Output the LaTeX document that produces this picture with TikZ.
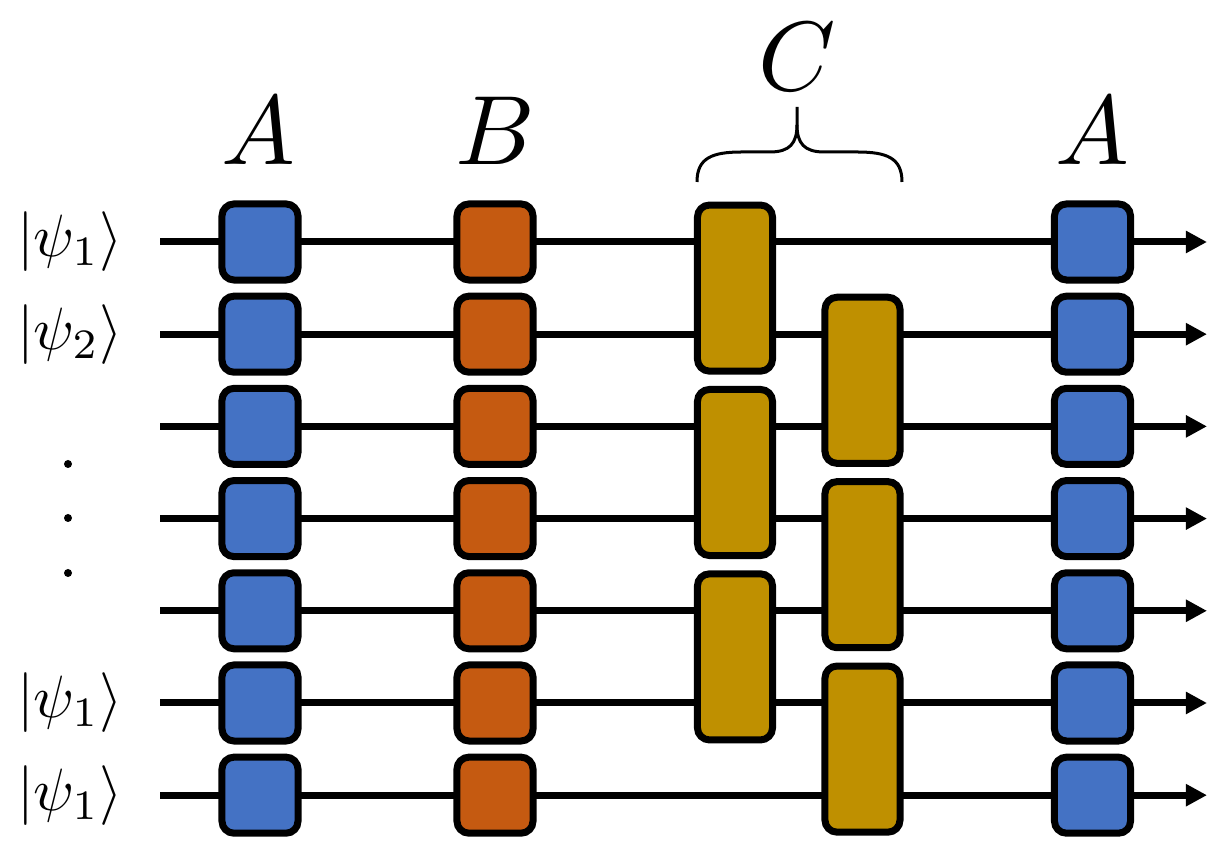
\documentclass[tikz,border=0pt]{standalone}
\usetikzlibrary{arrows.meta}
\definecolor{gblue}{HTML}{4472C4}
\definecolor{gorange}{HTML}{C55A11}
\definecolor{ggold}{HTML}{BF9000}
\begin{document}
\begin{tikzpicture}[x=0.01cm,y=-0.01cm,
  wire/.style={line width=0.07cm,-{Triangle[length=0.21cm,width=0.21cm]}},
  gate/.style={draw=black,line width=0.07cm,rounded corners=0.12cm,inner sep=0pt,
    minimum width=0.76cm,minimum height=0.76cm},
  tallgate/.style={gate,fill=ggold,minimum width=0.75cm,minimum height=1.66cm},
  biglabel/.style={scale=2.8,inner sep=0pt},
  ketlabel/.style={scale=1.7,inner sep=0pt}]
\useasboundingbox (0,0) rectangle (1229,862);
% wires
\foreach \i in {1,...,7}{
  \pgfmathsetmacro{\yy}{242+92.2*(\i-1)}
  \coordinate (s\i) at (160,\yy);
  \coordinate (e\i) at (1207,\yy);
  \draw[wire] (s\i) -- (e\i);
}
% A and B columns
\foreach \i in {1,...,7}{
  \node[gate,fill=gblue] (a\i) at (260,242+92.2*\i-92.2) {};
  \node[gate,fill=gorange] (b\i) at (495,242+92.2*\i-92.2) {};
  \node[gate,fill=gblue] (f\i) at (1092.5,242+92.2*\i-92.2) {};
}
% C gates
\node[tallgate] (c1) at (735,288.1) {};
\node[tallgate] (c2) at (735,472.5) {};
\node[tallgate] (c3) at (735,656.9) {};
\node[tallgate] (c4) at (862.5,380.3) {};
\node[tallgate] (c5) at (862.5,564.7) {};
\node[tallgate] (c6) at (862.5,749.1) {};
% brace
\draw[line width=0.03cm]
  (697,182) .. controls (697,158) and (712,152) .. (742,152) -- (770,152)
  .. controls (790,152) and (797,143) .. (797,125) -- (797,107);
\draw[line width=0.03cm]
  (902,182) .. controls (902,158) and (887,152) .. (857,152) -- (824,152)
  .. controls (804,152) and (797,143) .. (797,125);
% top labels
\node[biglabel] (la1) at (258,131) {$A$};
\node[biglabel] (lb) at (495,131) {$B$};
\node[biglabel] (lc) at (797,57) {$C$};
\node[biglabel] (la2) at (1092,131) {$A$};
% left labels
\node[ketlabel] (k1) at (70,242) {$|\psi_1\rangle$};
\node[ketlabel] (k2) at (70,334.2) {$|\psi_2\rangle$};
\node[ketlabel] (k6) at (70,703) {$|\psi_1\rangle$};
\node[ketlabel] (k7) at (70,795.2) {$|\psi_1\rangle$};
\fill (68,464) circle (4);
\fill (68,518) circle (4);
\fill (68,573) circle (4);
\end{tikzpicture}
\end{document}
